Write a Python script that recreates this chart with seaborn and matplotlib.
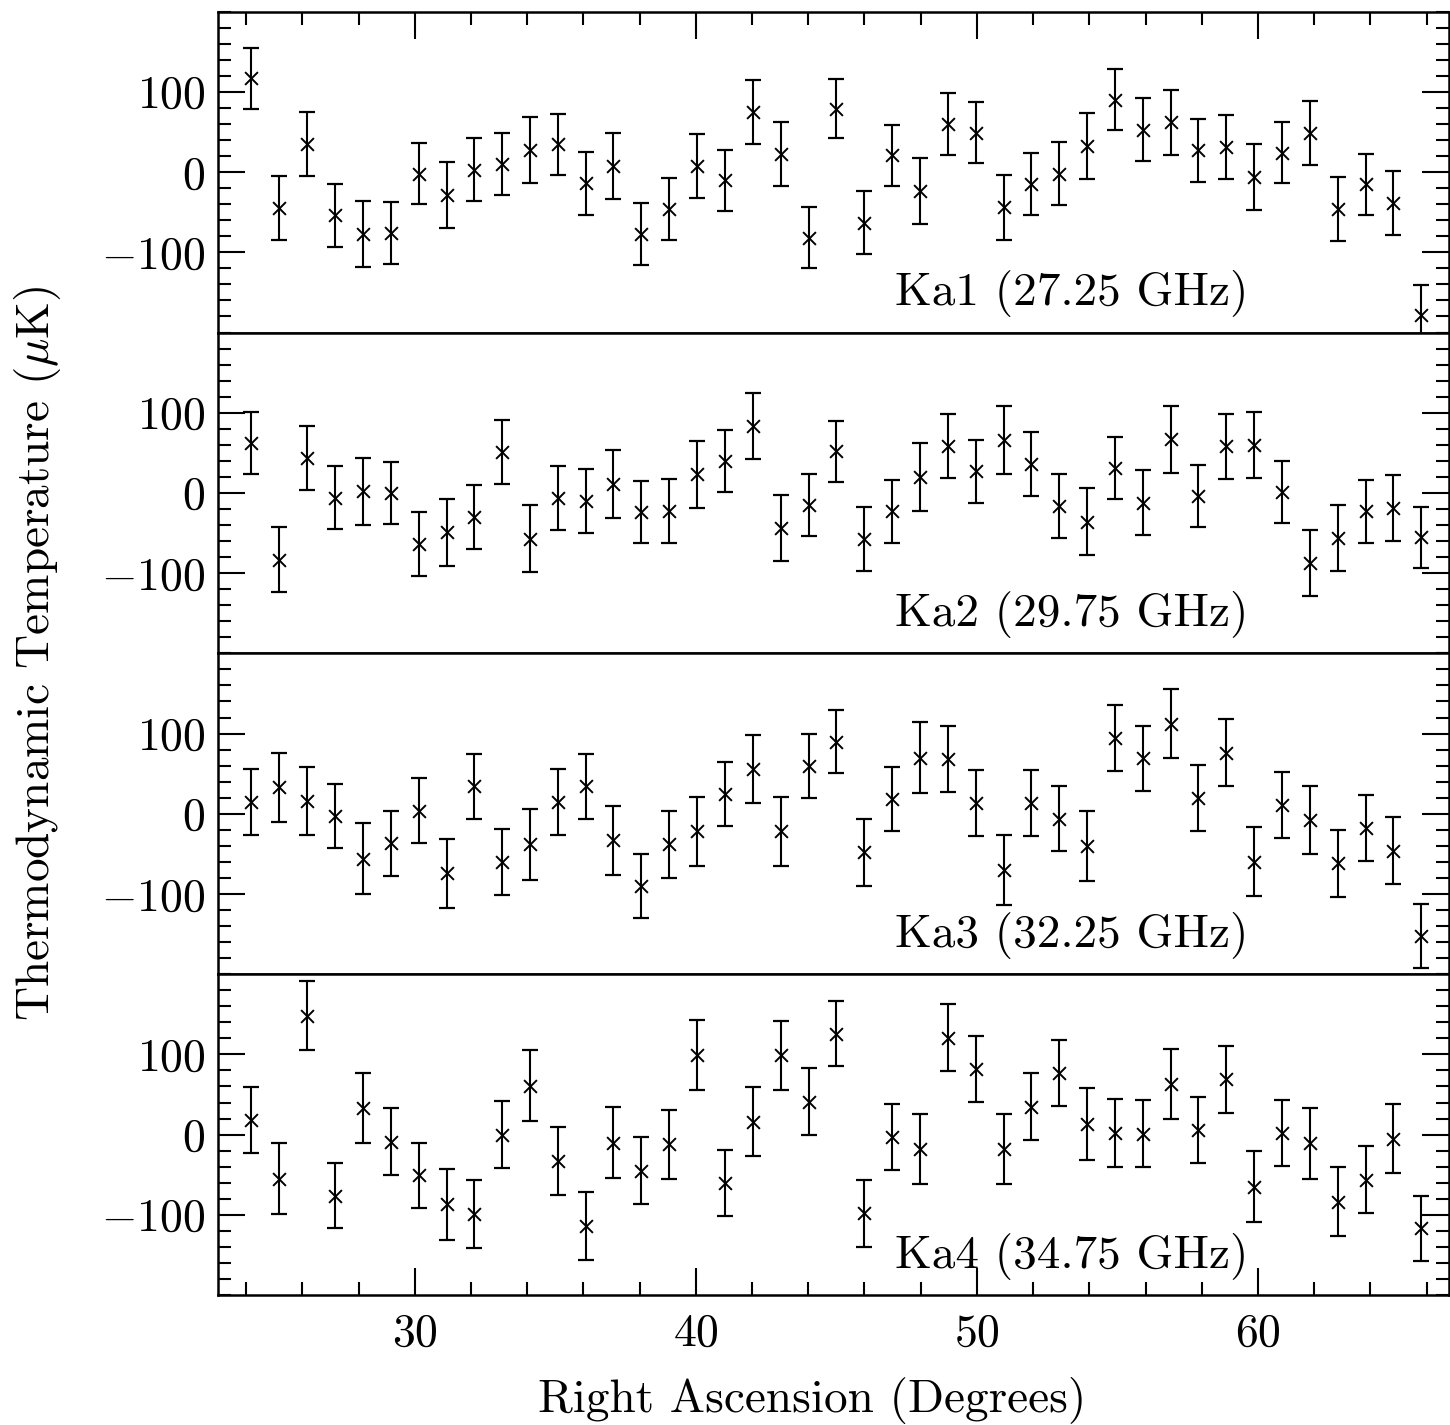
import matplotlib
matplotlib.use("Agg")
import matplotlib.pyplot as plt
from matplotlib.ticker import MultipleLocator, FixedLocator
import numpy as np
import pandas as pd
import seaborn as sns

# Right ascension of each bin (degrees)
ra = [24.19, 25.18, 26.17, 27.16, 28.15, 29.15, 30.14, 31.13, 32.12, 33.11,
      34.10, 35.09, 36.08, 37.07, 38.06, 39.06, 40.05, 41.04, 42.03, 43.02,
      44.01, 45.00, 45.99, 46.98, 47.97, 48.97, 49.96, 50.95, 51.94, 52.93,
      53.92, 54.91, 55.90, 56.89, 57.88, 58.88, 59.87, 60.86, 61.85, 62.84,
      63.83, 64.82, 65.81]

# Thermodynamic temperature (uK) and 1-sigma errors per channel
ka1_temp = [117, -45, 35, -54, -77, -76, -2, -29, 3, 10, 28, 35, -14, 8, -77,
            -46, 8, -10, 75, 23, -82, 79, -63, 21, -24, 60, 49, -44, -15, -2,
            33, 90, 53, 62, 27, 31, -6, 24, 49, -46, -15, -39, -178]
ka1_err = [38, 40, 40, 39, 41, 39, 38, 41, 39, 39, 41, 38, 39, 41, 39, 39, 40,
           38, 40, 40, 38, 37, 39, 38, 41, 39, 38, 41, 39, 39, 41, 38, 39, 41,
           39, 40, 41, 38, 40, 40, 38, 40, 37]

ka2_temp = [62, -83, 44, -6, 2, 0, -64, -49, -30, 51, -57, -6, -10, 11, -24,
            -23, 23, 40, 83, -44, -15, 52, -57, -23, 20, 59, 27, 66, 36, -16,
            -36, 31, -12, 67, -4, 58, 60, 1, -87, -56, -23, -19, -55]
ka2_err = [39, 41, 40, 39, 42, 39, 40, 42, 40, 40, 42, 40, 40, 42, 39, 40, 42,
           39, 41, 41, 39, 38, 40, 39, 42, 40, 39, 42, 40, 40, 42, 39, 40, 42,
           39, 41, 41, 39, 41, 41, 39, 41, 38]

ka3_temp = [15, 33, 16, -3, -56, -37, 4, -74, 34, -60, -38, 15, 34, -33, -90,
            -38, -22, 25, 56, -22, 60, 90, -48, 18, 70, 68, 13, -70, 13, -6,
            -40, 94, 69, 112, 20, 76, -60, 11, -8, -62, -18, -46, -152]
ka3_err = [41, 43, 42, 40, 44, 41, 41, 43, 41, 41, 44, 41, 41, 43, 40, 42, 43,
           40, 42, 43, 40, 39, 42, 40, 44, 41, 41, 44, 41, 41, 44, 41, 41, 43,
           41, 42, 43, 41, 42, 42, 41, 42, 40]

ka4_temp = [18, -55, 148, -76, 33, -9, -51, -87, -99, 0, 61, -33, -114, -10,
            -45, -12, 99, -60, 16, 99, 41, 126, -98, -3, -18, 121, 82, -18, 35,
            77, 13, 2, 1, 63, 6, 69, -65, 2, -11, -84, -56, -5, -117]
ka4_err = [41, 44, 43, 41, 44, 42, 41, 44, 42, 42, 44, 42, 42, 44, 42, 43, 44,
           41, 43, 43, 42, 40, 42, 41, 44, 42, 41, 44, 42, 41, 45, 42, 42, 44,
           41, 42, 44, 41, 44, 43, 42, 43, 41]

channels = ["Ka1 (27.25 GHz)", "Ka2 (29.75 GHz)",
            "Ka3 (32.25 GHz)", "Ka4 (34.75 GHz)"]
temps = [ka1_temp, ka2_temp, ka3_temp, ka4_temp]
errs = [ka1_err, ka2_err, ka3_err, ka4_err]

frames = []
for name, t, e in zip(channels, temps, errs):
    frames.append(pd.DataFrame({"ra": ra, "temp": t, "err": e, "channel": name}))
data = pd.concat(frames, ignore_index=True)

sns.set_theme(style="ticks")
plt.rcParams["font.family"] = ["cmr10", "DejaVu Serif"]
plt.rcParams["mathtext.fontset"] = "cm"
plt.rcParams["axes.formatter.use_mathtext"] = True
plt.rcParams["axes.linewidth"] = 1.8
plt.rcParams["text.color"] = "black"

W, H = 1450, 1425
fig = plt.figure(figsize=(W / 100, H / 100), dpi=100)

left_px, right_px = 218, 1448.5
top_px, bottom_px = 11.7, 1295
panel_h = (bottom_px - top_px) / 4

tick_fs = 33
text_fs = 34
axes = []
for i, name in enumerate(channels):
    y0 = top_px + (i + 1) * panel_h
    ax = fig.add_axes([left_px / W, 1 - y0 / H,
                       (right_px - left_px) / W, panel_h / H])
    axes.append(ax)
    sub = data[data["channel"] == name]
    ax.errorbar(sub["ra"], sub["temp"], yerr=sub["err"], fmt="none",
                ecolor="black", elinewidth=1.5, capsize=5.5, capthick=1.6)
    sns.scatterplot(data=sub, x="ra", y="temp", ax=ax, marker="x",
                    color="black", s=85, linewidth=1.4, legend=False, zorder=3)
    ax.set_xlim(23.0, 66.78)
    ax.set_ylim(-200, 200)
    ax.set_xlabel("")
    ax.set_ylabel("")
    ax.yaxis.set_major_locator(FixedLocator([-100, 0, 100]))
    ax.yaxis.set_minor_locator(MultipleLocator(20))
    ax.xaxis.set_major_locator(MultipleLocator(10))
    ax.xaxis.set_minor_locator(MultipleLocator(2))
    ax.tick_params(which="both", direction="in", left=True, right=True,
                   top=(i == 0), bottom=(i == 3), labelbottom=(i == 3),
                   labelsize=tick_fs, colors="black")
    ax.tick_params(which="major", length=19.5, width=1.5, pad=9)
    ax.tick_params(which="minor", length=9.5, width=1.5)
    ax.tick_params(axis="x", which="major", pad=13)
    for sp in ax.spines.values():
        sp.set_visible(True)
        sp.set_linewidth(1.8)
        sp.set_color("black")
    ax.text(47.1, -166, name, fontsize=text_fs, va="baseline", ha="left",
            color="black")

fig.text(38 / W, 1 - 653 / H, r"Thermodynamic Temperature ($\mu$K)",
         rotation=90, ha="center", va="center", fontsize=text_fs, color="black")
fig.text(812 / W, 1 - 1400 / H, "Right Ascension (Degrees)",
         ha="center", va="center", fontsize=text_fs, color="black")

fig.savefig("out.png", dpi=100, facecolor="white")
